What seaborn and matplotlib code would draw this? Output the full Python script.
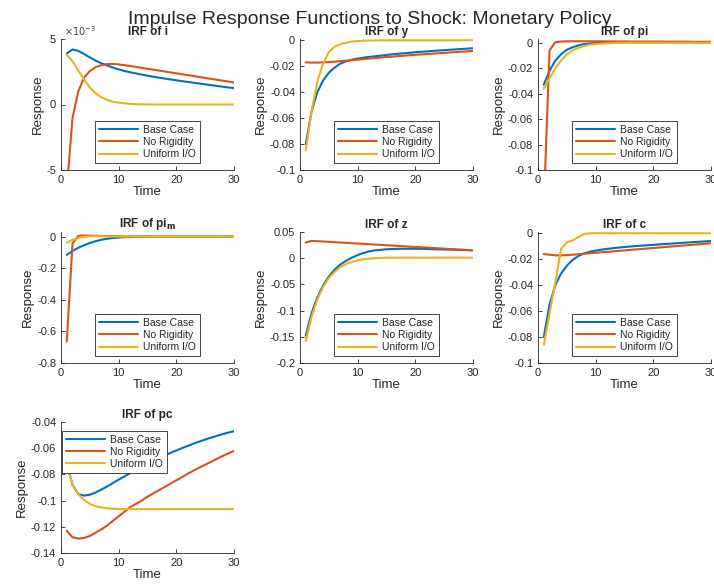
import seaborn as sns
import matplotlib.pyplot as plt
from matplotlib.ticker import FuncFormatter

time = list(range(1, 31))
cases = ["Base Case", "No Rigidity", "Uniform I/O"]
colors = ["#0072BD", "#D95319", "#EDB120"]

# IRF of i
i_base = [0.0039, 0.0042, 0.0041, 0.00385, 0.0036, 0.00335, 0.00315, 0.00298, 0.00282, 0.00268,
          0.00256, 0.00246, 0.00237, 0.00228, 0.0022, 0.00212, 0.00205, 0.00198, 0.00191, 0.00185,
          0.00178, 0.00172, 0.00166, 0.0016, 0.00154, 0.00148, 0.00142, 0.00136, 0.0013, 0.00125]
i_norig = [-0.0065, -0.001, 0.001, 0.00205, 0.00255, 0.00285, 0.003, 0.00308, 0.0031, 0.00306,
           0.003, 0.00294, 0.00287, 0.0028, 0.00273, 0.00266, 0.00259, 0.00252, 0.00245, 0.00238,
           0.00231, 0.00224, 0.00217, 0.0021, 0.00203, 0.00196, 0.00189, 0.00182, 0.00175, 0.00168]
i_unif = [0.0038, 0.0033, 0.0026, 0.0019, 0.0013, 0.00085, 0.00055, 0.00035, 0.00022, 0.00014,
          0.00009, 0.00005, 0.00003, 0.00002, 0.00001, 0.0, 0.0, 0.0, 0.0, 0.0,
          0.0, 0.0, 0.0, 0.0, 0.0, 0.0, 0.0, 0.0, 0.0, 0.0]

# IRF of y
y_base = [-0.08, -0.055, -0.04, -0.031, -0.025, -0.021, -0.018, -0.0162, -0.015, -0.0141,
          -0.0134, -0.0128, -0.0123, -0.0118, -0.0113, -0.0108, -0.0104, -0.01, -0.0096, -0.0092,
          -0.0089, -0.0086, -0.0082, -0.0079, -0.0076, -0.0073, -0.007, -0.0067, -0.0064, -0.0061]
y_norig = [-0.017, -0.0172, -0.0172, -0.017, -0.0168, -0.0165, -0.0161, -0.0157, -0.0153, -0.0149,
           -0.0145, -0.0141, -0.0137, -0.0133, -0.0129, -0.0126, -0.0122, -0.0119, -0.0115, -0.0112,
           -0.0109, -0.0106, -0.0103, -0.01, -0.0097, -0.0094, -0.0091, -0.0088, -0.0085, -0.0082]
y_unif = [-0.085, -0.055, -0.032, -0.018, -0.009, -0.005, -0.003, -0.0018, -0.001, -0.0006,
          -0.0003, -0.0002, -0.0001, 0.0, 0.0, 0.0, 0.0, 0.0, 0.0, 0.0,
          0.0, 0.0, 0.0, 0.0, 0.0, 0.0, 0.0, 0.0, 0.0, 0.0]

# IRF of pi
pi_base = [-0.033, -0.022, -0.014, -0.009, -0.0055, -0.0035, -0.002, -0.001, -0.0005, -0.0002,
           0.0, 0.0001, 0.0002, 0.0003, 0.0003, 0.0003, 0.0003, 0.0003, 0.0003, 0.0003,
           0.0003, 0.0003, 0.0003, 0.0003, 0.0003, 0.0003, 0.0003, 0.0003, 0.0003, 0.0003]
pi_norig = [-0.13, -0.006, 0.0005, 0.001, 0.0012, 0.0012, 0.0012, 0.0012, 0.0012, 0.0012,
            0.0012, 0.0011, 0.0011, 0.0011, 0.0011, 0.001, 0.001, 0.001, 0.001, 0.001,
            0.001, 0.0009, 0.0009, 0.0009, 0.0009, 0.0009, 0.0008, 0.0008, 0.0008, 0.0008]
pi_unif = [-0.036, -0.028, -0.02, -0.014, -0.009, -0.006, -0.004, -0.0025, -0.0015, -0.001,
           -0.0006, -0.0004, -0.0002, -0.0001, 0.0, 0.0, 0.0, 0.0, 0.0, 0.0,
           0.0, 0.0, 0.0, 0.0, 0.0, 0.0, 0.0, 0.0, 0.0, 0.0]

# IRF of pi_m
pim_base = [-0.115, -0.09, -0.07, -0.054, -0.04, -0.028, -0.019, -0.013, -0.008, -0.005,
            -0.003, -0.002, -0.001, 0.0, 0.0, 0.0, 0.0, 0.0, 0.0, 0.0,
            0.0, 0.0, 0.0, 0.0, 0.0, 0.0, 0.0, 0.0, 0.0, 0.0]
pim_norig = [-0.665, -0.043, 0.006, 0.008, 0.007, 0.006, 0.005, 0.004, 0.0035, 0.003,
             0.0025, 0.002, 0.002, 0.0015, 0.0015, 0.001, 0.001, 0.001, 0.001, 0.001,
             0.001, 0.001, 0.001, 0.001, 0.001, 0.001, 0.001, 0.001, 0.001, 0.001]
pim_unif = [-0.038, -0.02, -0.008, 0.0, 0.003, 0.003, 0.003, 0.002, 0.002, 0.0015,
            0.001, 0.001, 0.001, 0.0005, 0.0005, 0.0, 0.0, 0.0, 0.0, 0.0,
            0.0, 0.0, 0.0, 0.0, 0.0, 0.0, 0.0, 0.0, 0.0, 0.0]

# IRF of z
z_base = [-0.148, -0.105, -0.075, -0.052, -0.035, -0.022, -0.012, -0.005, 0.001, 0.006,
          0.01, 0.013, 0.015, 0.016, 0.017, 0.0175, 0.018, 0.018, 0.018, 0.018,
          0.0178, 0.0175, 0.0172, 0.0169, 0.0166, 0.0163, 0.016, 0.0157, 0.0154, 0.015]
z_norig = [0.03, 0.033, 0.0325, 0.0319, 0.0312, 0.0306, 0.0299, 0.0293, 0.0286, 0.028,
           0.0273, 0.0267, 0.026, 0.0254, 0.0247, 0.0241, 0.0234, 0.0228, 0.0221, 0.0215,
           0.0208, 0.0202, 0.0195, 0.0189, 0.0182, 0.0176, 0.0169, 0.0163, 0.0156, 0.015]
z_unif = [-0.158, -0.112, -0.079, -0.055, -0.038, -0.026, -0.017, -0.011, -0.007, -0.004,
          -0.002, -0.001, 0.0, 0.0005, 0.001, 0.001, 0.001, 0.001, 0.001, 0.001,
          0.001, 0.001, 0.001, 0.001, 0.001, 0.001, 0.001, 0.001, 0.001, 0.001]

# IRF of c
c_base = [-0.08, -0.055, -0.04, -0.031, -0.025, -0.0205, -0.0175, -0.0155, -0.0142, -0.0133,
          -0.0126, -0.012, -0.0115, -0.011, -0.0106, -0.0102, -0.0098, -0.0095, -0.0092, -0.0089,
          -0.0086, -0.0083, -0.008, -0.0077, -0.0074, -0.0071, -0.0068, -0.0065, -0.0062, -0.006]
c_norig = [-0.016, -0.0165, -0.017, -0.017, -0.0168, -0.0165, -0.0161, -0.0157, -0.0154, -0.015,
           -0.0146, -0.0143, -0.0139, -0.0135, -0.0132, -0.0128, -0.0124, -0.0121, -0.0117, -0.0113,
           -0.011, -0.0106, -0.0102, -0.0099, -0.0095, -0.0091, -0.0088, -0.0084, -0.008, -0.0077]
c_unif = [-0.086, -0.062, -0.038, -0.012, -0.007, -0.0055, -0.003, -0.0005, 0.0, 0.0,
          0.0, 0.0, 0.0, 0.0, 0.0, 0.0, 0.0, 0.0, 0.0, 0.0,
          0.0, 0.0, 0.0, 0.0, 0.0, 0.0, 0.0, 0.0, 0.0, 0.0]

# IRF of pc
pc_base = [-0.072, -0.088, -0.095, -0.0962, -0.0955, -0.0938, -0.0916, -0.0892, -0.0866, -0.084,
           -0.0815, -0.079, -0.0766, -0.0743, -0.072, -0.0698, -0.0677, -0.0656, -0.0636, -0.0617,
           -0.0599, -0.0582, -0.0565, -0.0549, -0.0534, -0.052, -0.0506, -0.0493, -0.0481, -0.047]
pc_norig = [-0.123, -0.128, -0.129, -0.1285, -0.127, -0.1245, -0.122, -0.119, -0.1155, -0.112,
            -0.1085, -0.105, -0.1025, -0.1, -0.097, -0.0945, -0.092, -0.0895, -0.087, -0.0845,
            -0.082, -0.0795, -0.077, -0.0748, -0.0726, -0.0704, -0.0682, -0.066, -0.064, -0.062]
pc_unif = [-0.072, -0.088, -0.095, -0.0995, -0.1025, -0.1043, -0.1053, -0.1059, -0.1062, -0.1064,
           -0.1065, -0.1065, -0.1065, -0.1065, -0.1065, -0.1065, -0.1065, -0.1065, -0.1065, -0.1065,
           -0.1065, -0.1065, -0.1065, -0.1065, -0.1065, -0.1065, -0.1065, -0.1065, -0.1065, -0.1065]

titles = ["IRF of i", "IRF of y", "IRF of pi", r"IRF of pi$_\mathbf{m}$", "IRF of z", "IRF of c", "IRF of pc"]
series = [
    [i_base, i_norig, i_unif],
    [y_base, y_norig, y_unif],
    [pi_base, pi_norig, pi_unif],
    [pim_base, pim_norig, pim_unif],
    [z_base, z_norig, z_unif],
    [c_base, c_norig, c_unif],
    [pc_base, pc_norig, pc_unif],
]
ylims = [(-5e-3, 5e-3), (-0.1, 0.001), (-0.1, 0.003), (-0.8, 0.03), (-0.2, 0.05), (-0.1, 0.001), (-0.14, -0.04)]
yticks = [
    [-5e-3, 0, 5e-3],
    [-0.1, -0.08, -0.06, -0.04, -0.02, 0],
    [-0.1, -0.08, -0.06, -0.04, -0.02, 0],
    [-0.8, -0.6, -0.4, -0.2, 0],
    [-0.2, -0.15, -0.1, -0.05, 0, 0.05],
    [-0.1, -0.08, -0.06, -0.04, -0.02, 0],
    [-0.14, -0.12, -0.1, -0.08, -0.06, -0.04],
]

sns.set_style("ticks")
plt.rcParams['font.family'] = ['Liberation Sans', 'DejaVu Sans']
plt.rcParams['axes.unicode_minus'] = False
plt.rcParams['xtick.direction'] = 'in'
plt.rcParams['ytick.direction'] = 'in'

fig = plt.figure(figsize=(7.14, 5.88), dpi=100)
W, H = 714, 588
lefts = [61, 300, 538]
bottoms = [170, 363, 553]
aw, ah = 173, 131

for k in range(7):
    r, c = divmod(k, 3)
    ax = fig.add_axes([lefts[c] / W, 1 - bottoms[r] / H, aw / W, ah / H])
    for vals, name, col in zip(series[k], cases, colors):
        sns.lineplot(x=time, y=vals, ax=ax, color=col, linewidth=1.5, label=name)
    ax.set_xlim(0, 30)
    ax.set_xticks([0, 10, 20, 30])
    ax.set_ylim(*ylims[k])
    ax.set_yticks(yticks[k])
    if k == 0:
        ax.yaxis.set_major_formatter(FuncFormatter(lambda v, p: "%g" % round(v * 1e3, 6)))
        ax.text(0.02, 1.005, r"$\times10^{-3}$", transform=ax.transAxes, fontsize=7,
                color='#404040', va='bottom')
    else:
        ax.yaxis.set_major_formatter(FuncFormatter(lambda v, p: "%g" % round(v, 6)))
    ax.tick_params(labelsize=8, length=3, width=0.6, colors='#262626')
    for s in ['left', 'bottom']:
        ax.spines[s].set_linewidth(0.6)
        ax.spines[s].set_color('#262626')
    sns.despine(ax=ax)
    ax.set_title(titles[k], fontsize=8.5, fontweight='bold', pad=3)
    ax.set_xlabel("Time", fontsize=9.5, labelpad=1)
    ax.set_ylabel("Response", fontsize=9.5, labelpad=2)

    leg_kw = dict(fontsize=7.5, labelspacing=0.2, handlelength=3.8, handletextpad=0.5,
                  borderpad=0.35, borderaxespad=0, fancybox=False, framealpha=1,
                  edgecolor='#262626')
    if k == 6:
        leg = ax.legend(loc='upper left', bbox_to_anchor=(0.005, 0.93), **leg_kw)
    else:
        leg = ax.legend(loc='lower center', bbox_to_anchor=(0.5, 0.055), **leg_kw)
    for t in leg.get_texts():
        t.set_color('#262626')
    leg.get_frame().set_linewidth(0.6)

fig.text(0.518, 0.966, "Impulse Response Functions to Shock: Monetary Policy",
         ha='center', va='center', fontsize=14, color='#262626')

fig.savefig("out.png", dpi=100, facecolor='white')
